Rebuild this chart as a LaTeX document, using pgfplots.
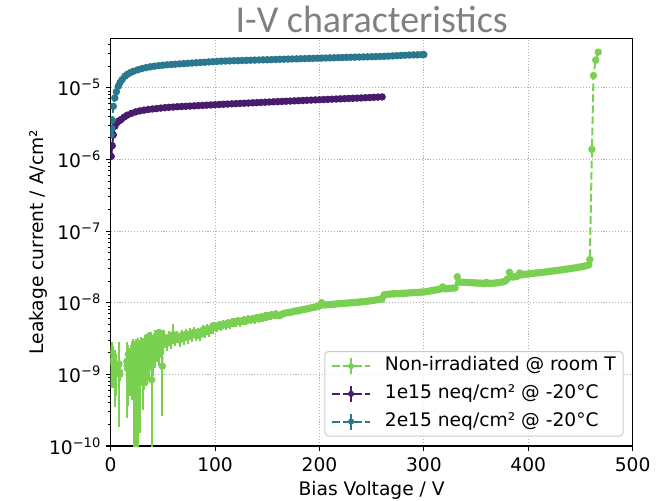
\documentclass[border=0pt]{standalone}
\usepackage{pgfplots}
\pgfplotsset{compat=1.18}
\usepackage{fontspec}
\setmainfont{DejaVu Sans}
\newfontfamily\titlefont{Carlito}
\definecolor{cgreen}{HTML}{7AD151}
\definecolor{cpurple}{HTML}{481B6D}
\definecolor{cteal}{HTML}{2A788E}
\definecolor{titlegray}{HTML}{808080}
\definecolor{gridgray}{HTML}{B0B0B0}
\tikzset{mpldash/.style={dash pattern=on 5.8pt off 2.5pt}}
\begin{document}
\begin{tikzpicture}
\useasboundingbox (-83pt,-40.5pt) rectangle (415pt,334.5pt);
\begin{axis}[
  scale only axis, width=391.5pt, height=305.8pt,
  xmin=0, xmax=500, ymode=log, ymin=1e-10, ymax=4.9e-5,
  xtick={0,100,200,300,400,500},
  ytick={1e-10,1e-9,1e-8,1e-7,1e-6,1e-5},
  yticklabels={10\textsuperscript{−10},10\textsuperscript{−9},10\textsuperscript{−8},10\textsuperscript{−7},10\textsuperscript{−6},10\textsuperscript{−5}},
  minor ytick={2e-10,3e-10,4e-10,5e-10,6e-10,7e-10,8e-10,9e-10,
    2e-9,3e-9,4e-9,5e-9,6e-9,7e-9,8e-9,9e-9,
    2e-8,3e-8,4e-8,5e-8,6e-8,7e-8,8e-8,9e-8,
    2e-7,3e-7,4e-7,5e-7,6e-7,7e-7,8e-7,9e-7,
    2e-6,3e-6,4e-6,5e-6,6e-6,7e-6,8e-6,9e-6,
    2e-5,3e-5,4e-5},
  tick align=outside, tick pos=left,
  major tick length=3.7pt, minor tick length=2.1pt,
  every major tick/.append style={black, line width=0.8pt},
  every minor tick/.append style={black, line width=0.6pt},
  grid=major,
  major grid style={gridgray, line width=0.8pt, dash pattern=on 0.8pt off 1.4pt},
  axis line style={line width=0.8pt},
  font=\fontsize{14}{16.8}\selectfont,
  /pgf/number format/assume math mode=true,
  xticklabel style={yshift=-1.5pt},
  title={I-V characteristics},
  every axis title shift=0pt,
  title style={font=\titlefont\fontsize{28.5}{33}\selectfont, text=titlegray, at={(0.5,1)}, anchor=base, yshift=4pt},
  xlabel={Bias Voltage / V},
  xlabel style={at={(0.5,0)}, anchor=base, yshift=-37pt},
  ylabel={Leakage current / A/cm²},
  ylabel style={at={(-0.129,0.5)}, anchor=base, rotate=0},
  clip marker paths=true,
  legend cell align=left,
  legend image code/.code={
    \draw[mark repeat=2, mark phase=2, #1, mark size=1.5pt] plot coordinates {(0pt,0pt) (14.4pt,0pt) (28.75pt,0pt)};
    \draw[#1, solid] (14.4pt,-6pt) -- (14.4pt,6pt);
  },
  legend style={at={(1,0)}, anchor=south east, xshift=-6.8pt, yshift=7pt,
    draw=black!20, line width=0.75pt, rounded corners=2.8pt,
    fill=white, fill opacity=0.8, text opacity=1,
    inner xsep=4.5pt, inner ysep=3pt, row sep=4.9pt, column sep=9.25pt,
    nodes={inner sep=1pt, text height=10.6pt, text depth=3.3pt},
    font=\fontsize{14}{16.8}\selectfont},
]
% Non-irradiated
\addplot[color=cgreen, line width=1.5pt, mpldash, mark=*, mark size=2pt, mark options={solid},
  error bars/.cd, y dir=both, y explicit relative,
  error bar style={line width=1.5pt, solid}, error mark=none]
  table[x=V, y=I, y error plus=ep, y error minus=em] {
V I ep em
0.3 1.5e-9 0.73 0.57
1.5 2.0e-9 0.40 0.65
2.5 1.52e-9 0.64 0.57
4.1 1.2e-9 0.83 0.71
5.5 1.1e-9 0.73 0.55
8.0 1.4e-9 1.00 0.87
8.9 1.0e-9 0.30 0.20
15.5 1.52e-9 0.84 0.84
16.3 1.2e-9 0.60 0.70
17.0 1.9e-9 0.37 0.42
17.8 1.5e-9 0.50 0.55
18.5 1.3e-9 0.54 0.62
19.5 1.7e-9 0.53 0.47
20.0 2.1e-9 0.40 0.45
20.5 1.2e-9 0.67 0.63
21.2 1.6e-9 0.55 0.50
21.7 2.3e-9 0.35 0.39
22.6 0.73e-9 0.78 0.99
23.0 1.9e-9 0.45 0.55
23.5 1.6e-9 0.81 0.81
24.0 2.2e-9 0.40 0.50
24.5 1.0e-9 0.80 0.99
25.0 1.4e-9 0.60 0.65
25.5 1.9e-9 0.42 0.74
26.0 2.4e-9 0.35 0.45
26.5 1.3e-9 0.62 0.99
27.0 1.7e-9 0.50 0.55
27.5 2.1e-9 0.43 0.62
28.0 1.2e-9 0.60 0.70
28.5 1.5e-9 0.60 0.90
29.0 1.9e-9 0.45 0.50
29.5 2.4e-9 0.38 0.50
30.0 1.7e-9 0.50 0.60
30.5 1.4e-9 0.79 0.77
31.0 2.3e-9 0.40 0.45
31.5 2.0e-9 0.50 0.55
32.0 1.5e-9 0.55 0.60
32.5 2.6e-9 0.35 0.38
33.0 2.1e-9 0.40 0.45
33.5 1.7e-9 0.53 0.59
34.0 2.7e-9 0.35 0.40
34.5 2.2e-9 0.36 0.45
35.0 1.6e-9 0.55 0.55
35.5 2.9e-9 0.31 0.38
36.0 2.3e-9 0.40 0.45
36.5 1.9e-9 0.42 0.58
37.0 2.9e-9 0.35 0.35
37.6 2.65e-9 0.32 0.40
38.0 2.1e-9 0.45 0.45
38.5 3.0e-9 0.30 0.30
39.3 0.84e-9 1.14 0.99
40.0 2.6e-9 0.35 0.40
40.5 2.3e-9 0.39 0.48
41.0 1.9e-9 0.45 0.50
41.5 2.8e-9 0.36 0.32
42.0 3.2e-9 0.30 0.30
42.5 2.2e-9 0.50 0.45
43.0 2.7e-9 0.35 0.35
43.5 3.3e-9 0.27 0.30
44.0 2.9e-9 0.30 0.35
44.5 2.5e-9 0.40 0.40
45.0 3.4e-9 0.28 0.30
45.5 2.9e-9 0.38 0.34
46.0 2.2e-9 0.45 0.40
46.5 2.4e-9 0.42 0.42
47.0 3.4e-9 0.28 0.28
47.5 3.1e-9 0.32 0.29
48.0 2.8e-9 0.35 0.35
48.5 2.6e-9 0.38 0.35
49.0 3.2e-9 0.30 0.30
49.5 1.3e-9 1.00 0.80
50.0 2.9e-9 0.30 0.30
50.5 2.7e-9 0.30 0.30
51.0 3.3e-9 0.25 0.25
52 3.0e-9 0.22 0.22
54 2.7e-9 0.22 0.22
56 3.3e-9 0.22 0.22
58 2.9e-9 0.22 0.22
60 3.6e-9 0.40 0.20
62 3.1e-9 0.20 0.20
64 3.4e-9 0.20 0.20
66 3.0e-9 0.20 0.20
68 3.5e-9 0.20 0.20
70 3.2e-9 0.20 0.20
72 3.6e-9 0.20 0.20
74 3.3e-9 0.20 0.20
76 3.7e-9 0.18 0.18
78 3.5e-9 0.18 0.18
80 3.9e-9 0.18 0.18
82 3.6e-9 0.18 0.18
84 3.8e-9 0.18 0.18
86 3.6e-9 0.18 0.18
88 4.1e-9 0.18 0.18
90 3.9e-9 0.18 0.18
92 4.3e-9 0.18 0.18
94 4.0e-9 0.18 0.18
96 4.4e-9 0.18 0.18
98 4.5e-9 0.18 0.18
100 4.7e-9 0.14 0.14
102 4.6e-9 0.14 0.14
104 4.9e-9 0.14 0.14
106 4.7e-9 0.14 0.14
108 5.0e-9 0.14 0.14
110 4.9e-9 0.14 0.14
112 5.2e-9 0.14 0.14
114 5.0e-9 0.14 0.14
116 5.3e-9 0.14 0.14
118 5.4e-9 0.14 0.14
120 5.3e-9 0.14 0.14
122 5.6e-9 0.14 0.14
124 5.4e-9 0.14 0.14
126 5.6e-9 0.14 0.14
128 5.7e-9 0.14 0.14
130 5.6e-9 0.14 0.14
132 5.9e-9 0.14 0.14
134 5.8e-9 0.14 0.14
136 6.0e-9 0.14 0.14
138 5.9e-9 0.14 0.14
140 6.2e-9 0.14 0.14
142 6.1e-9 0.14 0.14
144 6.3e-9 0.14 0.14
146 6.2e-9 0.14 0.14
148 6.5e-9 0.14 0.14
150 6.5e-9 0.14 0.14
152 6.6e-9 0.14 0.14
154 6.7e-9 0.14 0.14
156 6.8e-9 0.14 0.14
158 6.9e-9 0.14 0.14
160 6.7e-9 0.10 0.10
162 6.6e-9 0.10 0.10
164 6.9e-9 0.10 0.10
166 7.1e-9 0.10 0.10
168 7.2e-9 0.10 0.10
170 7.3e-9 0.10 0.10
172 7.3e-9 0.10 0.10
174 7.5e-9 0.10 0.10
176 7.6e-9 0.10 0.10
178 7.7e-9 0.10 0.10
180 7.7e-9 0.10 0.10
182 7.9e-9 0.10 0.10
184 8.0e-9 0.10 0.10
186 8.1e-9 0.10 0.10
188 8.2e-9 0.10 0.10
190 8.3e-9 0.10 0.10
192 8.5e-9 0.10 0.10
194 8.6e-9 0.10 0.10
196 8.7e-9 0.10 0.10
198 8.9e-9 0.10 0.10
200 9.0e-9 0.10 0.10
202 10.0e-9 0.10 0.10
204 9.3e-9 0.10 0.10
206 9.3e-9 0.10 0.10
208 9.4e-9 0.10 0.10
210 9.4e-9 0.10 0.10
212 9.5e-9 0.10 0.10
214 9.5e-9 0.10 0.10
216 9.6e-9 0.10 0.10
218 9.7e-9 0.10 0.10
220 9.7e-9 0.10 0.10
222 9.8e-9 0.10 0.10
224 9.8e-9 0.10 0.10
226 9.9e-9 0.10 0.10
228 9.9e-9 0.10 0.10
230 10.0e-9 0.10 0.10
232 10.0e-9 0.10 0.10
234 10.1e-9 0.10 0.10
236 10.1e-9 0.10 0.10
238 10.2e-9 0.10 0.10
240 10.3e-9 0.10 0.10
242 10.3e-9 0.10 0.10
244 10.4e-9 0.10 0.10
246 10.5e-9 0.10 0.10
248 10.6e-9 0.10 0.10
250 10.7e-9 0.10 0.10
252 10.8e-9 0.10 0.10
254 10.9e-9 0.10 0.10
256 11.0e-9 0.10 0.10
258 11.2e-9 0.10 0.10
260 11.3e-9 0.06 0.06
262 12.9e-9 0.06 0.06
264 13.0e-9 0.06 0.06
266 13.1e-9 0.06 0.06
268 13.2e-9 0.06 0.06
270 13.3e-9 0.06 0.06
272 13.3e-9 0.06 0.06
274 13.4e-9 0.06 0.06
276 13.4e-9 0.06 0.06
278 13.5e-9 0.06 0.06
280 13.5e-9 0.06 0.06
282 13.6e-9 0.06 0.06
284 13.6e-9 0.06 0.06
286 13.7e-9 0.06 0.06
288 13.8e-9 0.06 0.06
290 13.8e-9 0.06 0.06
292 13.9e-9 0.06 0.06
294 13.9e-9 0.06 0.06
296 14.0e-9 0.06 0.06
298 14.1e-9 0.06 0.06
300 14.1e-9 0.06 0.06
302 14.3e-9 0.06 0.06
304 14.4e-9 0.06 0.06
306 14.6e-9 0.06 0.06
308 14.8e-9 0.06 0.06
310 15.0e-9 0.06 0.06
312 15.1e-9 0.06 0.06
314 15.3e-9 0.06 0.06
316 15.5e-9 0.06 0.06
318 16.6e-9 0.06 0.06
320 15.6e-9 0.06 0.06
322 15.7e-9 0.06 0.06
324 15.8e-9 0.06 0.06
326 15.9e-9 0.06 0.06
328 16.0e-9 0.06 0.06
330 16.1e-9 0.06 0.06
332 23.0e-9 0.06 0.06
334 19.4e-9 0.06 0.06
336 19.3e-9 0.06 0.06
338 19.3e-9 0.06 0.06
340 19.2e-9 0.06 0.06
342 19.1e-9 0.06 0.06
344 19.1e-9 0.06 0.06
346 19.0e-9 0.06 0.06
348 18.9e-9 0.06 0.06
350 18.9e-9 0.06 0.06
352 18.8e-9 0.06 0.06
354 18.7e-9 0.06 0.06
356 18.7e-9 0.06 0.06
358 18.5e-9 0.06 0.06
360 19.2e-9 0.06 0.06
362 18.6e-9 0.06 0.06
364 18.6e-9 0.06 0.06
366 18.7e-9 0.06 0.06
368 18.8e-9 0.06 0.06
370 18.9e-9 0.06 0.06
372 19.1e-9 0.06 0.06
374 19.3e-9 0.06 0.06
376 19.6e-9 0.06 0.06
378 20.0e-9 0.06 0.06
380 21.5e-9 0.06 0.06
382 26.6e-9 0.06 0.06
384 23.0e-9 0.06 0.06
386 22.8e-9 0.06 0.06
388 23.3e-9 0.06 0.06
390 23.5e-9 0.06 0.06
392 26.0e-9 0.06 0.06
394 24.5e-9 0.06 0.06
396 24.8e-9 0.06 0.06
398 25.0e-9 0.06 0.06
400 25.2e-9 0.06 0.06
402 25.4e-9 0.06 0.06
404 25.6e-9 0.06 0.06
406 25.8e-9 0.06 0.06
408 26.0e-9 0.06 0.06
410 26.2e-9 0.06 0.06
412 26.4e-9 0.06 0.06
414 26.6e-9 0.06 0.06
416 26.8e-9 0.06 0.06
418 27.0e-9 0.06 0.06
420 27.3e-9 0.06 0.06
422 27.5e-9 0.06 0.06
424 27.7e-9 0.06 0.06
426 28.0e-9 0.06 0.06
428 28.2e-9 0.06 0.06
430 28.5e-9 0.06 0.06
432 28.7e-9 0.06 0.06
434 29.0e-9 0.06 0.06
436 29.3e-9 0.06 0.06
438 29.6e-9 0.06 0.06
440 29.9e-9 0.06 0.06
442 30.2e-9 0.06 0.06
444 30.5e-9 0.06 0.06
446 30.8e-9 0.06 0.06
448 31.2e-9 0.06 0.06
450 31.6e-9 0.06 0.06
452 32.0e-9 0.06 0.06
454 32.4e-9 0.06 0.06
456 32.9e-9 0.06 0.06
458 33.7e-9 0.06 0.06
459 40.0e-9 0.04 0.04
461 1.38e-6 0.03 0.03
462.5 1.48e-5 0.03 0.03
464.6 2.43e-5 0.03 0.03
467 3.14e-5 0.03 0.03
};
\addlegendentry{Non-irradiated @ room T}
% 1e15
\addplot[color=cpurple, line width=1.5pt, mpldash, mark=*, mark size=2pt, mark options={solid}]
  table[x=V, y=I] {
V I
0.5 1.1e-6
1.5 1.55e-6
2.5 2.2e-6
4 2.9e-6
6 3.25e-6
8 3.45e-6
10 3.6e-6
13 3.9e-6
16 4.15e-6
20 4.4e-6
24 4.6e-6
28 4.75e-6
32 4.87e-6
36 4.97e-6
40 5.05e-6
44 5.12e-6
48 5.2e-6
52 5.27e-6
56 5.33e-6
60 5.38e-6
64 5.43e-6
68 5.47e-6
72 5.51e-6
76 5.55e-6
80 5.59e-6
84 5.63e-6
88 5.67e-6
92 5.71e-6
96 5.75e-6
100 5.8e-6
104 5.84e-6
108 5.88e-6
112 5.92e-6
116 5.96e-6
120 6.0e-6
124 6.04e-6
128 6.08e-6
132 6.12e-6
136 6.16e-6
140 6.2e-6
144 6.24e-6
148 6.28e-6
152 6.32e-6
156 6.36e-6
160 6.4e-6
164 6.44e-6
168 6.48e-6
172 6.52e-6
176 6.56e-6
180 6.6e-6
184 6.64e-6
188 6.68e-6
192 6.72e-6
196 6.76e-6
200 6.8e-6
204 6.84e-6
208 6.88e-6
212 6.92e-6
216 6.96e-6
220 7.0e-6
224 7.04e-6
228 7.08e-6
232 7.12e-6
236 7.16e-6
240 7.2e-6
244 7.25e-6
248 7.3e-6
252 7.35e-6
256 7.4e-6
260 7.45e-6
};
\addlegendentry{1e15 neq/cm² @ -20°C}
% 2e15
\addplot[color=cteal, line width=1.5pt, mpldash, mark=*, mark size=2pt, mark options={solid}]
  table[x=V, y=I] {
V I
0.5 2.2e-6
1 2.7e-6
1.5 3.5e-6
2.5 5.5e-6
4 7.2e-6
5.5 8.8e-6
7.3 1.05e-5
9 1.18e-5
11 1.3e-5
13.7 1.45e-5
16 1.54e-5
19 1.63e-5
22 1.7e-5
26 1.78e-5
30 1.85e-5
34 1.91e-5
38 1.96e-5
42 2.0e-5
46 2.03e-5
50 2.06e-5
54 2.09e-5
58 2.11e-5
62 2.13e-5
66 2.15e-5
70 2.17e-5
74 2.19e-5
78 2.21e-5
82 2.23e-5
86 2.25e-5
90 2.27e-5
94 2.29e-5
98 2.31e-5
102 2.33e-5
106 2.35e-5
110 2.36e-5
114 2.37e-5
118 2.38e-5
122 2.39e-5
126 2.4e-5
130 2.41e-5
134 2.42e-5
138 2.43e-5
142 2.44e-5
146 2.45e-5
150 2.46e-5
154 2.47e-5
158 2.48e-5
162 2.49e-5
166 2.5e-5
170 2.51e-5
174 2.52e-5
178 2.53e-5
182 2.54e-5
186 2.55e-5
190 2.56e-5
194 2.57e-5
198 2.58e-5
202 2.59e-5
206 2.6e-5
210 2.61e-5
214 2.62e-5
218 2.63e-5
222 2.64e-5
226 2.65e-5
230 2.66e-5
234 2.67e-5
238 2.68e-5
242 2.69e-5
246 2.7e-5
250 2.71e-5
254 2.72e-5
258 2.73e-5
262 2.74e-5
266 2.76e-5
270 2.78e-5
274 2.8e-5
278 2.82e-5
282 2.84e-5
286 2.86e-5
290 2.87e-5
294 2.88e-5
298 2.9e-5
300 2.9e-5
};
\addlegendentry{2e15 neq/cm² @ -20°C}
\end{axis}
\end{tikzpicture}
\end{document}
